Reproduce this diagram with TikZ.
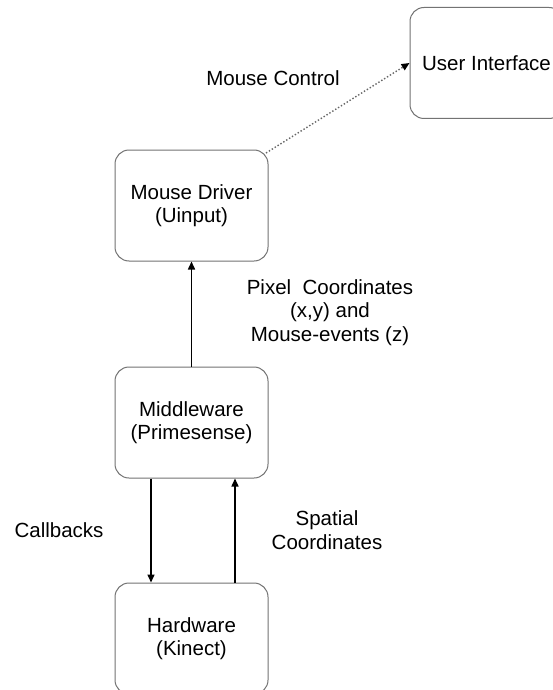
\documentclass[tikz,border=0pt]{standalone}
\usepackage{fontspec}
\setmainfont{Liberation Sans}
\usetikzlibrary{arrows.meta}
\begin{document}
\begin{tikzpicture}[x=1pt,y=-1pt,
  box/.style={draw=black!55, line width=1pt, rounded corners=14pt,
    minimum width=153pt, minimum height=111pt, align=center, inner sep=0pt,
    font=\fontsize{20.5}{23.5}\selectfont},
  lbl/.style={align=center, inner sep=0pt, font=\fontsize{20.5}{23.5}\selectfont},
  arr/.style={line width=1.5pt, -{Triangle[length=8pt,width=7pt]}}]
\clip (0,0) rectangle (553,690);
\fill[white] (0,0) rectangle (553,690);
\node[box] (ui) at (486.5,63) {User Interface};
\node[box] (md) at (191.5,205.5) {Mouse Driver\\(Uinput)};
\node[box] (mw) at (191.5,422.5) {Middleware\\(Primesense)};
\node[box] (hw) at (191.5,638.5) {Hardware\\(Kinect)};
\coordinate (mdc) at (266,153);
\draw[black!60, line width=1.4pt, dotted, -{Triangle[length=8pt,width=7pt,black]}] (mdc) -- (ui.west);
\draw[arr] (mw.north) -- (md.south);
\draw[arr] (mw.south -| 151,0) -- (hw.north -| 151,0);
\draw[arr] (hw.north -| 235,0) -- (mw.south -| 235,0);
\node[lbl] (mc) at (273,78) {Mouse Control};
\node[lbl] (pc) at (330,312.5) {Pixel\ \ Coordinates\\(x,y) and\\Mouse-events (z)};
\node[lbl] (cb) at (59,530) {Callbacks};
\node[lbl] (sc) at (327,530) {Spatial\\Coordinates};
\end{tikzpicture}
\end{document}
